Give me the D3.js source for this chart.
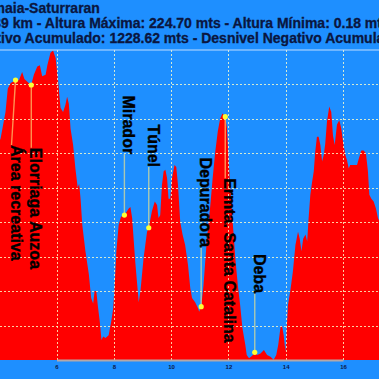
<!DOCTYPE html>
<html lang="es">
<head>
<meta charset="UTF-8">
<script src="https://d3js.org/d3.v7.min.js"></script>
<title>Perfil</title>
<style>
  body { margin: 0; background: #1e8fff; overflow: hidden; }
  text { font-family: "Liberation Sans", Arial, sans-serif; font-weight: bold; }
</style>
</head>
<body>
<div id="canvas"></div>
<script>
// profile: distance (km) and altitude (m)
const km = [4.00,4.05,4.22,4.30,4.40,4.57,4.69,4.80,4.88,5.03,5.12,5.21,5.33,5.42,5.50,5.62,5.68,5.79,5.88,5.97,
  6.05,6.14,6.23,6.31,6.37,6.43,6.49,6.58,6.66,6.74,6.79,6.84,6.90,7.01,7.13,7.21,7.28,7.33,7.39,7.44,
  7.51,7.57,7.63,7.71,7.82,7.91,7.98,8.03,8.09,8.17,8.25,8.37,8.52,8.58,8.64,8.75,8.87,8.93,9.04,9.16,
  9.22,9.33,9.43,9.51,9.56,9.62,9.68,9.74,9.80,9.86,9.91,9.97,10.03,10.12,10.18,10.24,10.32,10.40,10.49,10.59,
  10.67,10.73,10.84,10.94,10.98,11.05,11.13,11.25,11.37,11.45,11.54,11.63,11.71,11.79,11.89,11.95,12.00,12.06,12.14,12.24,
  12.33,12.41,12.49,12.59,12.64,12.72,12.83,12.92,13.00,13.12,13.24,13.35,13.47,13.58,13.67,13.74,13.82,13.87,13.93,13.99,
  14.02,14.08,14.16,14.25,14.34,14.43,14.49,14.55,14.61,14.69,14.75,14.80,14.86,14.92,14.98,15.03,15.09,15.15,15.21,15.27,
  15.33,15.38,15.44,15.52,15.59,15.65,15.71,15.79,15.87,15.94,16.00,16.08,16.14,16.20,16.25,16.37,16.49,16.55,16.64,16.72,
  16.80,16.87,16.92,16.99,17.07,17.15,17.22,17.30]
const alt = [158,161,180,197,201,203,203,209,204,201,200,207,213,214,206,207,214,223,224.7,219,
  204,183,180,185,191,186,168,156,139,125,128,117,98,79,62,45,41,50,50,40,
  28,14.5,17,16,18,28,37.5,54,79,98,104,105,110,111,103,71,42,50,74,93,
  96,108,115,112.5,103,105,127,137,138,132,117,117,132,141.5,140,127,100,91,83.5,69,
  52,45,42,37.5,35,38.7,54,88,112.5,132,151,166,175,179,176.6,168,149,127,103,74,
  54,40,23,11,3.6,1.2,3,5.6,3.6,4.8,7.3,3.6,2.4,0.18,3.6,11,24,25,18,6,
  16,40,50,64,83.5,93,88,79,88,91,86,103,120,129,137,151,162,162,156,144,
  149,157,173,184,180,163,156,171,174,168,158.5,149,145,139,141.5,141.5,141.5,146,152,152,
  150,137,120,117,115,110,103,99]

const xTicks = [6,8,10,12,14,16]
const yTicks = [25,50,75,100,125,150,175,200]

// points of interest
const poiNames = ["Área recreativa","Elorriaga Auzoa","Mirador","Túnel","Depuradora","Ermta. Santa Catalina","Deba"]
const poiKm = [4.57,5.12,8.37,9.22,11.05,11.89,12.92]
const poiAlt = [203.2,199.6,105.2,96.0,38.7,176.6,5.6]
const poiLabelKm = [4.43,5.12,8.37,9.22,11.05,11.89,12.92]
const poiLabelAlt = [156,154,192,171,147,132,77]

const titleLines = [
  {full:"Zumaia-Saturraran", cut:"Zum", x:5},
  {full:"Distancia: 17.39 km - Altura Máxima: 224.70 mts - Altura Mínima: 0.18 mts", cut:"Distancia: 17.3", x:1},
  {full:"Desnivel Positivo Acumulado: 1228.62 mts - Desnivel Negativo Acumulado: 1228.44 mts", cut:"Desnivel Posit", x:1}
]

const W = 379, H = 379
const svg = d3.select("#canvas").append("svg").attr("width",W).attr("height",H)
svg.append("rect").attr("width",W).attr("height",H).attr("fill","#1e8fff")

const x = d3.scaleLinear().domain([6,16]).range([56.5,343])
const y = d3.scaleLinear().domain([0,225]).range([360,50])

const data = km.map((k,i) => ({km:k, alt:alt[i]}))

svg.append("path")
   .datum(data)
   .attr("fill","#ff0000")
   .attr("d", d3.area().x(d => x(d.km)).y0(y(0)).y1(d => y(d.alt)))

// grid
const grid = svg.append("g")
grid.selectAll(".vg").data(xTicks).enter().append("line")
    .attr("x1",d => Math.round(x(d))+0.5).attr("x2",d => Math.round(x(d))+0.5)
    .attr("y1",y(225)).attr("y2",y(0))
    .attr("stroke","rgba(255,255,200,0.8)").attr("stroke-dasharray","2,2")
grid.selectAll(".hg").data(yTicks).enter().append("line")
    .attr("x1",0).attr("x2",W)
    .attr("y1",d => Math.round(y(d))+0.5).attr("y2",d => Math.round(y(d))+0.5)
    .attr("stroke","rgba(255,255,200,0.8)").attr("stroke-dasharray","2,2")
svg.append("line").attr("x1",0).attr("x2",W).attr("y1",y(225)).attr("y2",y(225))
   .attr("stroke","rgba(210,230,255,0.9)").attr("stroke-width",1.2)

// x axis
const gx = svg.append("g").attr("transform",`translate(0,${y(0)})`)
gx.call(d3.axisBottom(x).tickValues(xTicks).tickSize(0).tickPadding(5))
gx.select(".domain").attr("stroke","#b4a8a8").attr("stroke-width",2)
gx.selectAll("text").attr("fill","#0a1a4a").style("font-size","6px")

// points of interest
const poi = svg.append("g")
poiNames.forEach((name,i) => {
  const px = x(poiKm[i]), py = y(poiAlt[i])
  const lx = x(poiLabelKm[i]), ly = y(poiLabelAlt[i])
  const t = poi.append("text")
     .attr("transform",`translate(${lx-1},${ly}) rotate(90)`)
     .attr("fill","#000")
     .attr("stroke","#000").attr("stroke-width",0.4)
     .style("font-size","16px")
     .text(name)
  const len = t.node().getComputedTextLength()
  const ly2 = ly > py ? ly : ly + len
  poi.insert("line","text")
     .attr("x1",px).attr("y1",py).attr("x2",lx).attr("y2",ly2)
     .attr("stroke","rgba(255,235,130,0.62)").attr("stroke-width",1.4)
  poi.append("circle").attr("cx",px).attr("cy",py).attr("r",2.6).attr("fill","#ffff33")
})

// title (cropped on the left)
titleLines.forEach((l,i) => {
  const tmp = svg.append("text").style("font-size","14px").text(l.cut)
  const w = tmp.node().getComputedTextLength()
  tmp.remove()
  svg.append("text")
     .attr("x", l.x - w).attr("y", 13 + i*15)
     .attr("fill","#0a1640")
     .attr("stroke","#0a1640").attr("stroke-width",0.3)
     .style("font-size","14px")
     .text(l.full)
})
</script>
</body>
</html>
